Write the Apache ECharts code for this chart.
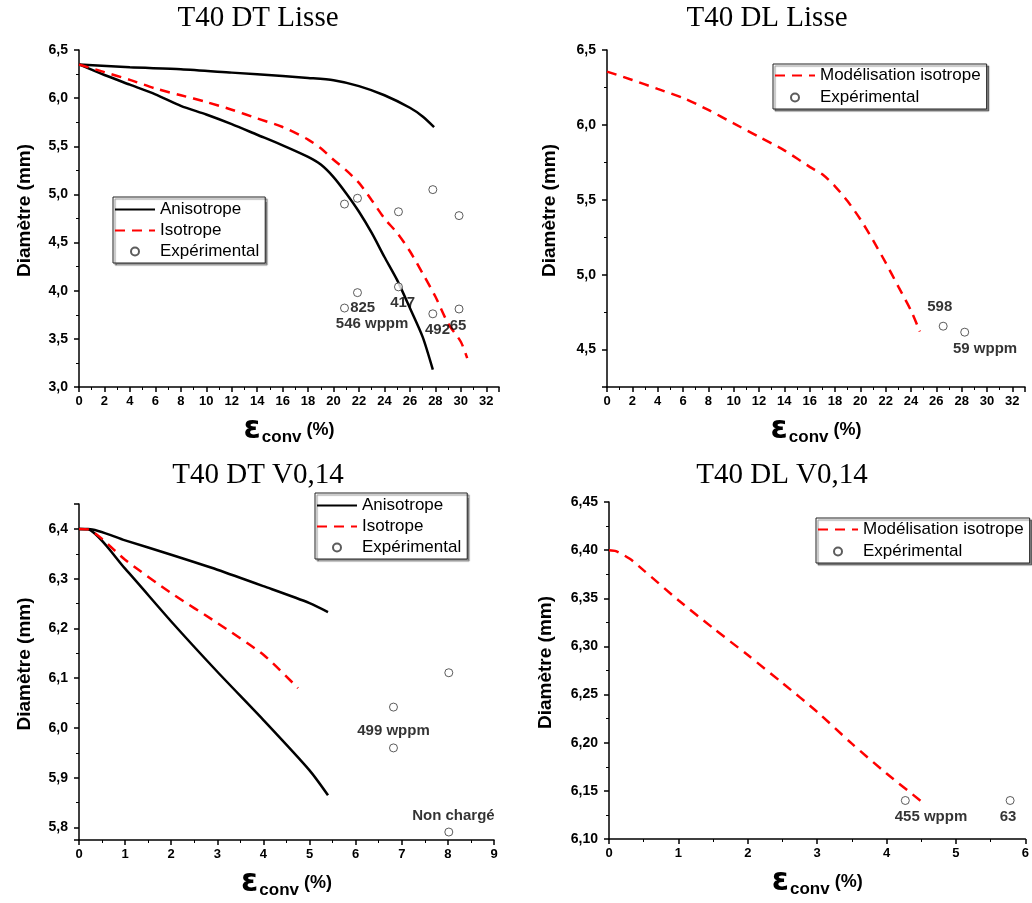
<!DOCTYPE html>
<html><head><meta charset="utf-8">
<script src="https://cdn.jsdelivr.net/npm/echarts/dist/echarts.min.js"></script>
<style>html,body{margin:0;padding:0;background:#fff}#c{width:1032px;height:903px}</style>
</head><body><div id="c"></div><script>
// ---------- Panel 1 : T40 DT Lisse ----------
const p1AnisoUpper = [[0,6.35],[4,6.32],[8,6.30],[12,6.265],[16,6.23],[18,6.21],[20,6.185],[22,6.125],[24,6.03],[26,5.90],[27,5.81],[27.9,5.70]];
const p1AnisoLower = [[0,6.35],[2,6.24],[4,6.14],[6,6.04],[8,5.92],[10,5.83],[12,5.73],[14,5.62],[16,5.51],[18,5.39],[19,5.31],[20,5.18],[21,5.01],[22,4.82],[23,4.60],[24,4.35],[25,4.11],[26,3.82],[27,3.52],[27.8,3.18]];
const p1Iso = [[0,6.35],[2,6.27],[4,6.19],[6,6.10],[8,6.03],[10,5.96],[12,5.88],[14,5.79],[16,5.70],[18,5.57],[19,5.48],[20,5.36],[21,5.25],[22,5.12],[23,4.94],[24,4.75],[25,4.60],[26,4.41],[27,4.18],[28,3.94],[29,3.66],[30,3.47],[30.5,3.30]];
const p1Exp = [[20.86,4.90],[21.88,4.96],[25.1,4.82],[27.8,5.05],[29.86,4.78],[21.88,3.98],[20.86,3.82],[25.1,4.04],[27.8,3.76],[29.86,3.81]];
const p1Notes = [[22.29,3.826,'825'],[23.03,3.655,'546 wppm'],[25.43,3.878,'417'],[28.17,3.59,'492'],[29.78,3.634,'65']];
// ---------- Panel 2 : T40 DL Lisse ----------
const p2Iso = [[0,6.356],[2,6.30],[4,6.24],[6,6.18],[8,6.10],[10,6.01],[12,5.92],[14,5.83],[16,5.72],[17,5.67],[18,5.59],[19,5.49],[20,5.37],[21,5.23],[22,5.08],[23,4.92],[24,4.76],[24.7,4.62]];
const p2Exp = [[26.54,4.656],[28.24,4.616]];
const p2Notes = [[26.27,4.783,'598'],[29.85,4.507,'59 wppm']];
// ---------- Panel 3 : T40 DT V0,14 ----------
const p3AnisoUpper = [[0,6.4],[0.2,6.4],[1,6.377],[2,6.348],[3,6.318],[4,6.285],[5,6.251],[5.4,6.233]];
const p3AnisoLower = [[0,6.4],[0.2,6.399],[1,6.32],[2,6.214],[3,6.113],[4,6.016],[5,5.915],[5.4,5.865]];
const p3Iso = [[0,6.4],[0.2,6.399],[0.5,6.38],[1,6.338],[2,6.271],[3,6.211],[4,6.147],[4.75,6.08]];
const p3Exp = [[6.82,6.042],[6.82,5.96],[8.02,6.111],[8.02,5.791]];
const p3Notes = [[6.82,5.994,'499 wppm'],[8.12,5.823,'Non chargé']];
// ---------- Panel 4 : T40 DL V0,14 ----------
const p4Iso = [[0,6.40],[0.1,6.399],[0.3,6.391],[0.5,6.379],[1,6.348],[1.5,6.319],[2,6.291],[2.5,6.262],[3,6.232],[3.5,6.199],[4,6.168],[4.5,6.139],[4.52,6.137]];
const p4Exp = [[4.27,6.14],[5.78,6.14]];
const p4Notes = [[4.64,6.123,'455 wppm'],[5.75,6.123,'63']];

const titles = ['T40 DT Lisse','T40 DL Lisse','T40 DT V0,14','T40 DL V0,14'];
const yName = 'Diamètre (mm)';

const SANS = 'Liberation Sans';
const chart = echarts.init(document.getElementById('c'));

function xAxis(gi, max, interval) {
  return {
    type:'value', gridIndex:gi, min:0, max:max, interval:interval,
    axisLine:{lineStyle:{color:'#000', width:1.5}},
    axisTick:{length:5, lineStyle:{color:'#000', width:1.5}},
    minorTick:{show:true, splitNumber:2, length:3, lineStyle:{color:'#000', width:1}},
    splitLine:{show:false},
    axisLabel:{color:'#000', fontFamily:SANS, fontWeight:'bold', fontSize:13, margin:8, showMaxLabel: max === 33 ? false : true},
    name:'{e|ε}{s|conv}{p| (%)}', nameLocation:'middle', nameGap:27,
    nameTextStyle:{color:'#000', rich:{
      e:{fontFamily:'DejaVu Sans', fontWeight:'bold', fontSize:31, lineHeight:32, color:'#000'},
      s:{fontFamily:SANS, fontWeight:'bold', fontSize:17, padding:[15,0,0,1], color:'#000'},
      p:{fontFamily:SANS, fontWeight:'bold', fontSize:18, color:'#000'}
    }}
  };
}
function yAxis(gi, min, max, opts, dec, gap) {
  return Object.assign({
    type:'value', gridIndex:gi, min:min, max:max,
    axisLine:{show:true, lineStyle:{color:'#000', width:1.5}},
    axisTick:{show:true, length:5, lineStyle:{color:'#000', width:1.5}},
    minorTick:{show:true, splitNumber:2, length:3, lineStyle:{color:'#000', width:1}},
    splitLine:{show:false},
    axisLabel:{color:'#000', fontFamily:SANS, fontWeight:'bold', fontSize:14, margin:11,
      showMinLabel: opts.hideMin ? false : true, showMaxLabel: opts.hideMax ? false : true,
      formatter: v => v.toFixed(dec).replace('.', ',')},
    name:yName, nameLocation:'middle', nameGap:gap,
    nameTextStyle:{color:'#000', fontFamily:SANS, fontWeight:'bold', fontSize:19, padding:[0,0,0,16]}
  }, opts.interval ? {interval:opts.interval} : {splitNumber:opts.split});
}

const blackLine = {color:'#000', width:2.5};
const redLine = {color:'#ff0000', width:2.5, type:[10,7]};
function line(name, gi, data, style) {
  return {type:'line', name:name, xAxisIndex:gi, yAxisIndex:gi, data:data, symbol:'none', smooth:0.25,
    lineStyle:style, itemStyle:{color:style.color}, silent:true, z:3};
}
function exp(gi, data) {
  return {type:'scatter', name:'Expérimental', xAxisIndex:gi, yAxisIndex:gi, data:data, symbol:'circle', symbolSize:8,
    itemStyle:{color:'#fff', borderColor:'#333', borderWidth:1}, silent:true, z:4};
}
function notes(gi, data) {
  return {type:'scatter', name:'notes'+gi, xAxisIndex:gi, yAxisIndex:gi, data:data, symbolSize:0, silent:true, z:5,
    label:{show:true, position:'inside', color:'#000', fontFamily:SANS, fontWeight:'bold', fontSize:15, formatter:p => p.data[2]}};
}
function legend(names, left, top, gap, pad) {
  return {data:names.map(n => n === 'Expérimental' ? {name:n} : {name:n, itemStyle:{opacity:0}}),
    left:left, top:top, orient:'vertical', itemWidth:40, itemHeight:8, itemGap:gap,
    padding:pad, borderColor:'#222', borderWidth:1, backgroundColor:'#fff',
    shadowColor:'rgba(0,0,0,0.45)', shadowBlur:1, shadowOffsetX:2, shadowOffsetY:2,
    selectedMode:false, textStyle:{fontFamily:SANS, fontSize:17, color:'#000'}};
}
function title(text, left, top) {
  return {text:text, left:left, top:top, textAlign:'center',
    textStyle:{fontFamily:'Liberation Serif', fontWeight:'normal', fontSize:29, color:'#000'}};
}

chart.setOption({
  animation:false,
  backgroundColor:'#fff',
  title:[title(titles[0],253,-1), title(titles[1],762,-1), title(titles[2],253,456), title(titles[3],777,456)],
  grid:[
    {left:79, top:50, width:420, height:337},
    {left:607, top:50, width:418, height:337},
    {left:79, top:504, width:415, height:336},
    {left:609, top:502, width:417, height:337}
  ],
  xAxis:[xAxis(0,33,2), xAxis(1,33,2), xAxis(2,9,1), xAxis(3,6,1)],
  yAxis:[
    yAxis(0, 3, 6.5, {interval:0.5}, 1, 45),
    yAxis(1, 4.25, 6.5, {split:5, hideMin:true}, 1, 48),
    yAxis(2, 5.775, 6.45, {split:7, hideMin:true, hideMax:true}, 1, 45),
    yAxis(3, 6.10, 6.45, {interval:0.05}, 2, 54)
  ],
  legend:[
    legend(['Anisotrope','Isotrope','Expérimental'], 113, 197, 4, [4,6,3,1]),
    legend(['Modélisation isotrope','Expérimental'], 773, 64, 5, [3,6,3,1]),
    legend(['Anisotrope','Isotrope','Expérimental'], 315, 493, 4, [4,6,3,1]),
    legend(['Modélisation isotrope','Expérimental'], 816, 518, 5, [3,6,3,1])
  ],
  series:[
    line('Anisotrope',0,p1AnisoUpper,blackLine),
    line('Anisotrope',0,p1AnisoLower,blackLine),
    line('Isotrope',0,p1Iso,redLine),
    exp(0,p1Exp), notes(0,p1Notes),
    line('Modélisation isotrope',1,p2Iso,redLine),
    exp(1,p2Exp), notes(1,p2Notes),
    line('Anisotrope',2,p3AnisoUpper,blackLine),
    line('Anisotrope',2,p3AnisoLower,blackLine),
    line('Isotrope',2,p3Iso,redLine),
    exp(2,p3Exp), notes(2,p3Notes),
    line('Modélisation isotrope',3,p4Iso,redLine),
    exp(3,p4Exp), notes(3,p4Notes)
  ]
});
</script></body></html>
